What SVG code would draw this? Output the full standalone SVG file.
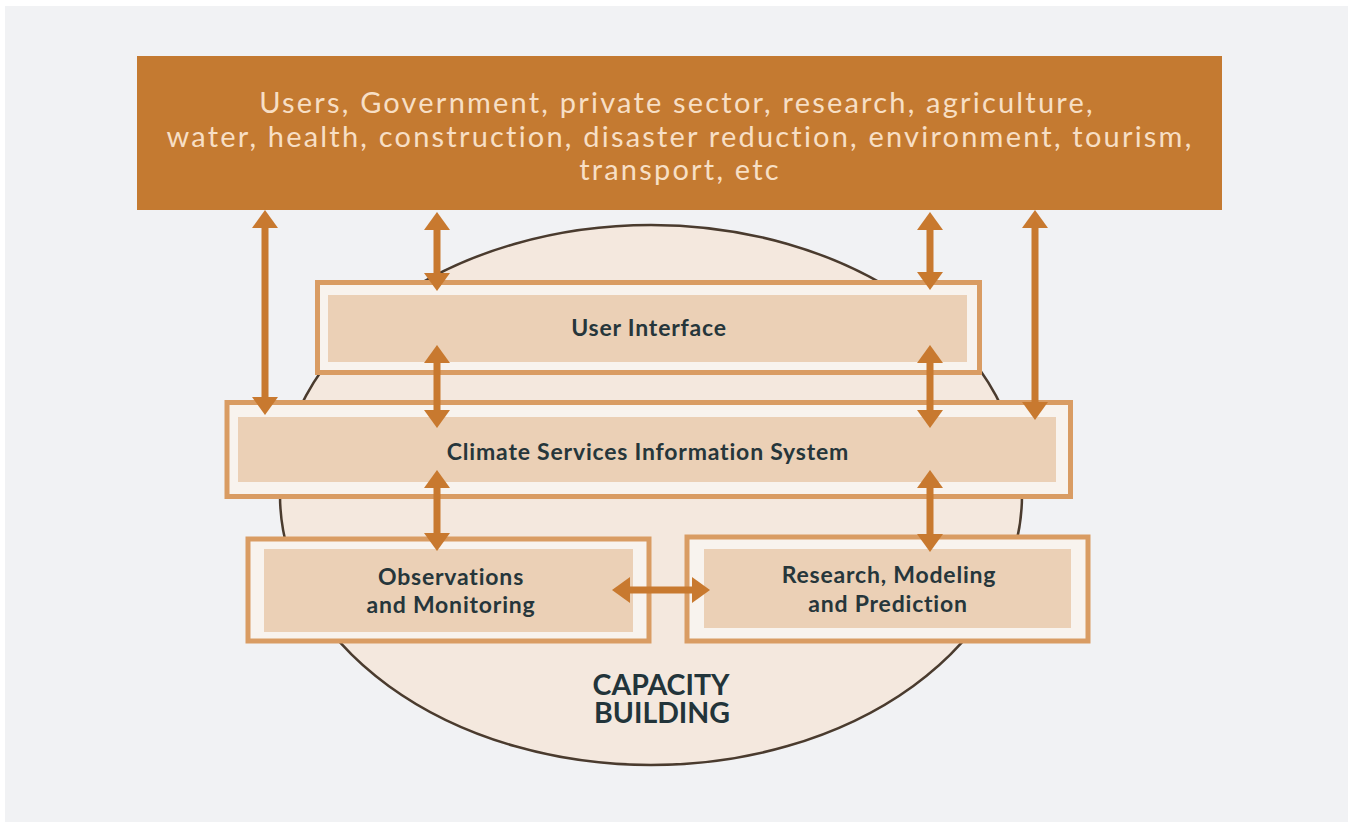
<svg xmlns="http://www.w3.org/2000/svg" width="1350" height="825" viewBox="0 0 1350 825">
<style>
.bg{fill:#f1f2f4}
.top{fill:#c47a31}
.toptext{font-family:Lato,"Noto Sans",sans-serif;font-size:29px;letter-spacing:2.2px;fill:#f7dfc5;text-anchor:middle}
.outer{fill:#f8f3ee;stroke:#d99c63;stroke-width:5}
.inner{fill:#ebd0b6}
.lbl{font-family:Lato,"Noto Sans",sans-serif;font-weight:700;font-size:23px;letter-spacing:0.8px;fill:#26363b;text-anchor:middle}
.cap{font-family:Lato,"Noto Sans",sans-serif;font-weight:700;font-size:28.5px;fill:#22343a;text-anchor:middle}
.arr{stroke:#c8792f;stroke-width:7;fill:none;marker-start:url(#head);marker-end:url(#head)}
</style>
<defs>
<marker id="head" viewBox="0 0 18 26" refX="0" refY="13" markerWidth="18" markerHeight="26" markerUnits="userSpaceOnUse" orient="auto-start-reverse">
<path d="M0,0 L18,13 L0,26 Z" fill="#c8792f"/>
</marker>
</defs>
<rect x="0" y="0" width="1350" height="825" fill="#ffffff"/>
<rect class="bg" x="5" y="6" width="1343" height="816"/>
<g id="capacity-building">
<ellipse cx="651" cy="495" rx="371" ry="270" fill="#f4e8de" stroke="#4a3b2e" stroke-width="2.5"/>
<text class="cap" x="661" y="695">CAPACITY</text>
<text class="cap" x="662" y="723">BUILDING</text>
</g>
<g id="users">
<rect class="top" x="137" y="56" width="1085" height="154"/>
<text class="toptext" x="677" y="113">Users, Government, private sector, research, agriculture,</text>
<text class="toptext" x="680" y="147">water, health, construction, disaster reduction, environment, tourism,</text>
<text class="toptext" x="680" y="180">transport, etc</text>
</g>
<g id="user-interface">
<rect class="outer" x="317.5" y="282.5" width="662" height="90"/>
<rect class="inner" x="328" y="295" width="639" height="67"/>
<text class="lbl" x="649" y="336">User Interface</text>
</g>
<g id="csis">
<rect class="outer" x="227" y="402.5" width="843.5" height="94"/>
<rect class="inner" x="238" y="417" width="818" height="65"/>
<text class="lbl" x="648" y="460">Climate Services Information System</text>
</g>
<g id="observations">
<rect class="outer" x="248" y="539" width="401" height="102"/>
<rect class="inner" x="264" y="549" width="369" height="83"/>
<text class="lbl" x="451" y="585">Observations</text>
<text class="lbl" x="451" y="613">and Monitoring</text>
</g>
<g id="research">
<rect class="outer" x="687" y="537" width="401" height="104"/>
<rect class="inner" x="704" y="549" width="367" height="79"/>
<text class="lbl" x="889" y="583">Research, Modeling</text>
<text class="lbl" x="888" y="612">and Prediction</text>
</g>
<g id="connectors">
<line class="arr" x1="265" y1="228" x2="265" y2="397"/>
<line class="arr" x1="1035" y1="228" x2="1035" y2="402"/>
<line class="arr" x1="437" y1="230" x2="437" y2="273"/>
<line class="arr" x1="437" y1="363" x2="437" y2="410"/>
<line class="arr" x1="437" y1="488" x2="437" y2="533"/>
<line class="arr" x1="930" y1="230" x2="930" y2="272"/>
<line class="arr" x1="930" y1="363" x2="930" y2="410"/>
<line class="arr" x1="930" y1="488" x2="930" y2="534"/>
<line class="arr" x1="630" y1="590" x2="692" y2="590"/>
</g>
</svg>
